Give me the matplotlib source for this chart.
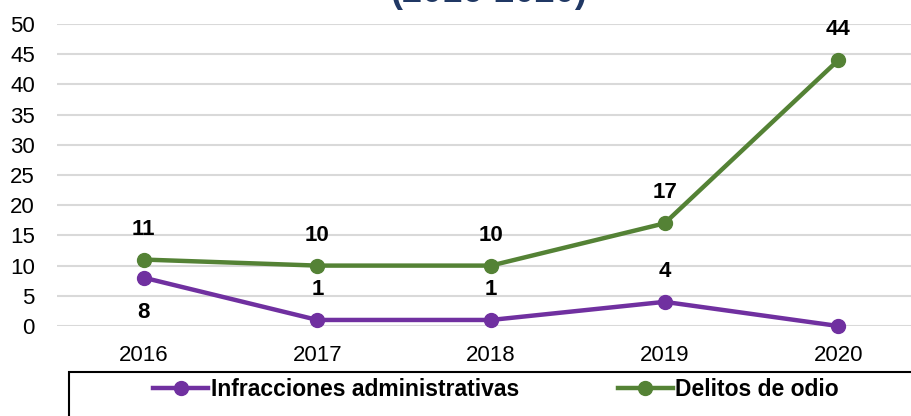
import matplotlib.pyplot as plt
from matplotlib.patches import Rectangle

W, H = 912, 416

years = ["2016", "2017", "2018", "2019", "2020"]
infracciones = [8, 1, 1, 4, 0]
delitos = [11, 10, 10, 17, 44]

# label placement: True = above point, False = below, None = no label
infr_above = [False, True, True, True, None]

PURPLE = "#7030A0"
GREEN = "#548235"
GRID = "#D9D9D9"

plt.rcParams["font.family"] = ["Liberation Sans", "DejaVu Sans"]

fig = plt.figure(figsize=(W / 100, H / 100), dpi=100)
# plot area in pixels: left 57, category spacing ~174 px, right side runs past the image
left, right = 57, 925
y0, y50 = 326, 24
ax = fig.add_axes([left / W, (H - y0) / H, (right - left) / W, (y0 - y50) / H])

x = list(range(len(years)))
ax.plot(x, infracciones, color=PURPLE, lw=3.2, marker="o", ms=10,
        label="Infracciones administrativas", clip_on=False, zorder=3)
ax.plot(x, delitos, color=GREEN, lw=3.2, marker="o", ms=10,
        label="Delitos de odio", clip_on=False, zorder=3)

ax.set_xlim(-0.5, 4.5)
ax.set_ylim(0, 50)
ax.set_yticks(range(0, 51, 5))
ax.set_xticks(x)
ax.set_xticklabels(years)
ax.grid(axis="y", color=GRID, lw=1.5)
ax.set_axisbelow(True)
for s in ax.spines.values():
    s.set_visible(False)
ax.tick_params(length=0, labelsize=16)
ax.tick_params(axis="y", pad=16)
ax.tick_params(axis="x", pad=14)

for i, v in enumerate(delitos):
    ax.annotate(str(v), (i, v), xytext=(0, 22), textcoords="offset points",
                ha="center", va="center", fontsize=16, fontweight="bold")
for i, v in enumerate(infracciones):
    if infr_above[i] is None:
        continue
    off = 22 if infr_above[i] else -25
    ax.annotate(str(v), (i, v), xytext=(0, off), textcoords="offset points",
                ha="center", va="center", fontsize=16, fontweight="bold")

# title, mostly cut off at the top
fig.text(489 / W, (H - 2.5) / H, "(2016-2020)", ha="center", va="baseline",
         fontsize=26, fontweight="bold", color="#203864")

# legend box (cropped at right and bottom)
fig.patches.append(Rectangle((69 / W, -0.1), 1, (H - 372) / H + 0.1,
                             transform=fig.transFigure, fill=False,
                             edgecolor="black", lw=1.5))
fig.legend(loc="center", bbox_to_anchor=(496 / W, (H - 390) / H), ncol=2,
           frameon=False, handlelength=2.4, handletextpad=0.1,
           columnspacing=4.3, prop={"weight": "bold", "size": 16.5})

fig.savefig("out.png", dpi=100)
